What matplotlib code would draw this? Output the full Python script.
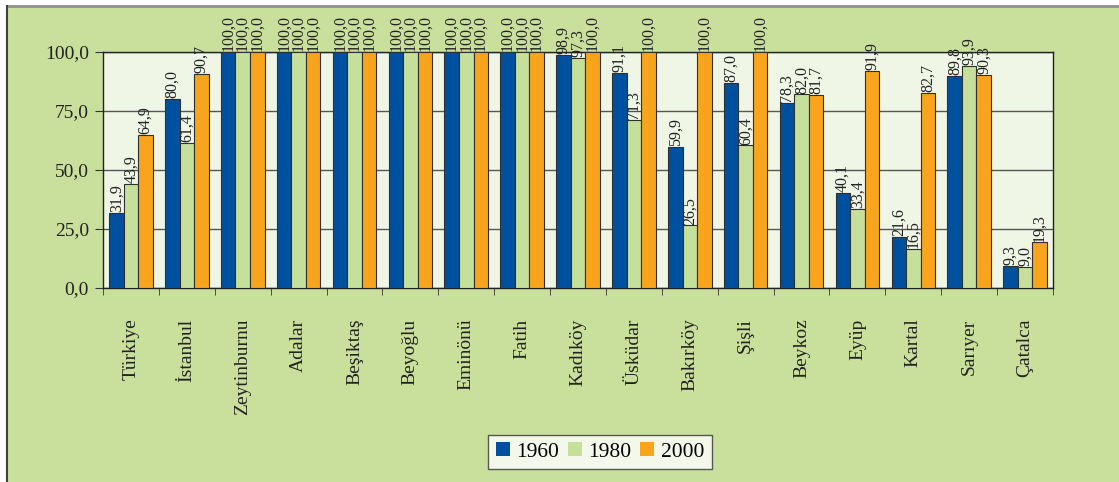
import numpy as np
import matplotlib.pyplot as plt
from matplotlib.lines import Line2D

# datos
ilceler = ['Türkiye', 'İstanbul', 'Zeytinburnu', 'Adalar', 'Beşiktaş', 'Beyoğlu',
           'Eminönü', 'Fatih', 'Kadıköy', 'Üsküdar', 'Bakırköy', 'Şişli',
           'Beykoz', 'Eyüp', 'Kartal', 'Sarıyer', 'Çatalca']
yil_1960 = [31.9, 80.0, 100.0, 100.0, 100.0, 100.0, 100.0, 100.0, 98.9, 91.1,
            59.9, 87.0, 78.3, 40.1, 21.6, 89.8, 9.3]
yil_1980 = [43.9, 61.4, 100.0, 100.0, 100.0, 100.0, 100.0, 100.0, 97.3, 71.3,
            26.5, 60.4, 82.0, 33.4, 16.5, 93.9, 9.0]
yil_2000 = [64.9, 90.7, 100.0, 100.0, 100.0, 100.0, 100.0, 100.0, 100.0, 100.0,
            100.0, 100.0, 81.7, 91.9, 82.7, 90.3, 19.3]
seriler = ['1960', '1980', '2000']

renkler = ['#0050A0', '#C6E09C', '#F8A41C']
zemin = '#C8E09C'

plt.rcParams['font.family'] = ['Liberation Serif', 'DejaVu Serif']

fig = plt.figure(figsize=(11.19, 4.82), dpi=100, facecolor='white')
# fondo verde con borde gris arriba e izquierda
fig.patches.append(plt.Rectangle((7 / 1119, 0), 1, 1 - 6 / 482, transform=fig.transFigure,
                                 facecolor=zemin, edgecolor='none', zorder=-10))
fig.lines.append(Line2D([7 / 1119, 1], [1 - 6 / 482, 1 - 6 / 482], transform=fig.transFigure,
                        color='#909090', lw=2))
fig.lines.append(Line2D([7 / 1119, 7 / 1119], [0, 1 - 6 / 482], transform=fig.transFigure,
                        color='#404040', lw=1.5))

ax = fig.add_axes([103 / 1119, 1 - 288 / 482, 950 / 1119, 236 / 482])
ax.set_facecolor('#F0F6E6')

x = np.arange(len(ilceler))
w = 0.26
for i, (vals, ad) in enumerate(zip([yil_1960, yil_1980, yil_2000], seriler)):
    pos = x + (i - 1) * w
    ax.bar(pos, vals, w, color=renkler[i], edgecolor='#303030', linewidth=0.8,
           label=ad, zorder=3)
    for px, v in zip(pos, vals):
        ax.text(px, v + 0.4, f'{v:.1f}'.replace('.', ','), rotation=90, ha='center',
                va='bottom', fontsize=11.5, color='#222222', clip_on=False, zorder=4)

ax.set_xlim(-0.5, len(ilceler) - 0.5)
ax.set_ylim(0, 100)
ax.set_yticks([0, 25, 50, 75, 100])
ax.set_yticklabels(['0,0', '25,0', '50,0', '75,0', '100,0'], fontsize=14, color='#222222')
ax.yaxis.grid(True, color='#555555', lw=1, zorder=1)

ax.set_xticks(x)
ax.set_xticklabels(ilceler, rotation=90, fontsize=14, color='#222222', va='top')
ax.set_xticks(np.arange(len(ilceler) + 1) - 0.5, minor=True)
ax.tick_params(axis='x', which='major', length=0, pad=22)
ax.tick_params(axis='x', which='minor', length=5, direction='out', color='#333333')
ax.tick_params(axis='y', length=6, direction='out', color='#333333', pad=4)
for s in ax.spines.values():
    s.set_color('#222222')
    s.set_linewidth(1)

leg = fig.legend(loc='center', bbox_to_anchor=(600 / 1119, 1 - 452 / 482), ncol=3,
                 fontsize=15.5, frameon=True, fancybox=False, handlelength=0.65,
                 handleheight=0.65, handletextpad=0.3, columnspacing=0.4,
                 borderpad=0.35)
for h in leg.legend_handles:
    h.set_edgecolor('none')
leg.get_frame().set_edgecolor('#333333')
leg.get_frame().set_linewidth(1)

fig.savefig('out.png', dpi=100, facecolor=fig.get_facecolor())
